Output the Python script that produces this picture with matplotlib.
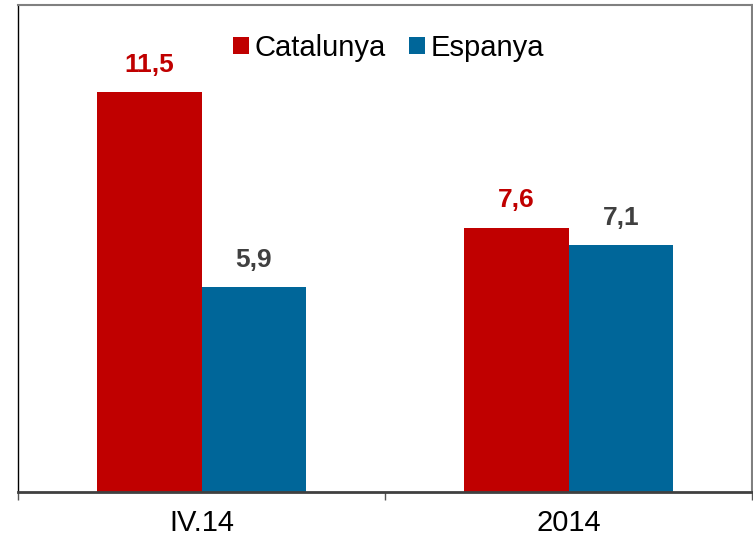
import numpy as np
import matplotlib.pyplot as plt

plt.rcParams['font.family'] = ['Liberation Sans', 'DejaVu Sans']

categories = ['IV.14', '2014']
series_names = ['Catalunya', 'Espanya']
catalunya = [11.5, 7.6]
espanya = [5.9, 7.1]

RED = '#C00000'
BLUE = '#006699'
GREY_TXT = '#404040'

fig = plt.figure(figsize=(7.53, 5.39), dpi=100)
ax = fig.add_axes([18 / 753, 47 / 539, 734 / 753, 487 / 539])

x = np.arange(len(categories))
w = 0.286
b1 = ax.bar(x - w / 2, catalunya, w, color=RED, label=series_names[0])
b2 = ax.bar(x + w / 2, espanya, w, color=BLUE, label=series_names[1])

for bars, vals, col in [(b1, catalunya, RED), (b2, espanya, GREY_TXT)]:
    for rect, v in zip(bars, vals):
        ax.annotate(f'{v:.1f}'.replace('.', ','),
                    xy=(rect.get_x() + rect.get_width() / 2, v),
                    xytext=(0, 14.5), textcoords='offset points',
                    ha='center', va='baseline', fontsize=19,
                    fontweight='bold', color=col)

ax.set_xlim(-0.5, 1.5)
ax.set_ylim(0, 14)
ax.set_yticks([])

# category boundary ticks, labels centred under groups
ax.set_xticks([-0.5, 0.5, 1.5])
ax.set_xticklabels([])
ax.tick_params(axis='x', which='major', length=6, width=1, color='#555555', direction='out')
ax.set_xticks(x, minor=True)
ax.set_xticklabels(categories, minor=True, fontsize=21)
ax.tick_params(axis='x', which='minor', length=0, pad=12.5)

ax.spines['left'].set_color('black')
ax.spines['left'].set_linewidth(1)
ax.spines['bottom'].set_color('#404040')
ax.spines['bottom'].set_linewidth(2)
for s in ['top', 'right']:
    ax.spines[s].set_color('#808080')
    ax.spines[s].set_linewidth(1.5)

ax.legend(loc='upper center', bbox_to_anchor=(0.505, 0.995), ncol=2,
          frameon=False, fontsize=21, handlelength=0.55, handleheight=0.55,
          handletextpad=0.2, columnspacing=0.8)

fig.savefig('out.png', dpi=100)
